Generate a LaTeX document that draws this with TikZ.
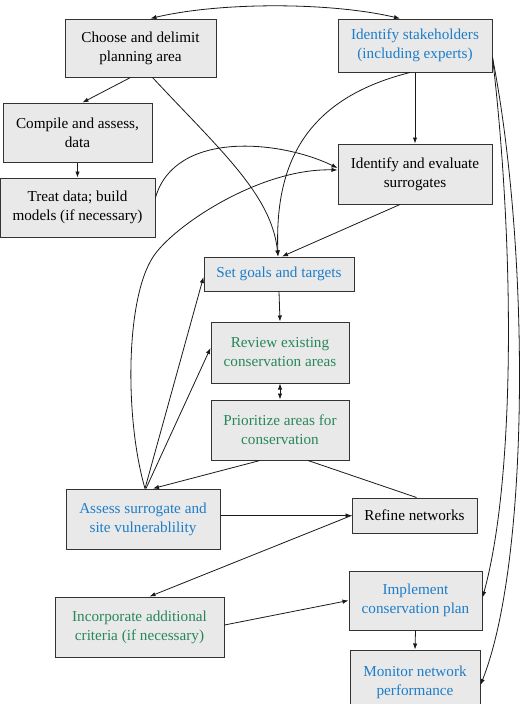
\documentclass[tikz,border=0pt]{standalone}
\usepackage{fontspec}
\setmainfont{Liberation Serif}
\usetikzlibrary{arrows.meta,calc}
\definecolor{tblue}{RGB}{30,125,200}
\definecolor{tgreen}{RGB}{40,135,90}
\definecolor{boxfill}{RGB}{233,233,233}
\begin{document}
\begin{tikzpicture}[x=1pt,y=-1pt,
  >={Latex[length=6pt,width=4.4pt]},
  box/.style={draw=black!80, fill=boxfill, line width=1pt, align=center,
    inner sep=0pt, font=\fontsize{15.2}{19}\selectfont},
  bluetext/.style={text=tblue},
  greentext/.style={text=tgreen},
  link/.style={draw=black!90, line width=0.8pt},
  conn/.style={link, ->},
  both/.style={link, <->}]
\useasboundingbox (0,0) rectangle (528,704);

\node[box, minimum width=151pt, minimum height=58pt] (A) at (140.5,48) {Choose and delimit\\planning area};
\node[box, bluetext, minimum width=154pt, minimum height=53pt] (B) at (415,45.5) {Identify stakeholders\\(including experts)};
\node[box, minimum width=149pt, minimum height=59pt] (C) at (77.5,132.5) {Compile and assess,\\data};
\node[box, minimum width=155pt, minimum height=59pt] (D) at (77.5,207.5) {Treat data; build\\models (if necessary)};
\node[box, minimum width=154pt, minimum height=60pt] (E) at (415,174) {Identify and evaluate\\surrogates};
\node[box, bluetext, minimum width=150pt, minimum height=34pt] (F) at (279,274) {Set goals and targets};
\node[box, greentext, minimum width=138pt, minimum height=61pt] (G) at (280,352.5) {Review existing\\conservation areas};
\node[box, greentext, minimum width=138pt, minimum height=60pt] (H) at (280,430) {Prioritize areas for\\conservation};
\node[box, bluetext, minimum width=154pt, minimum height=60pt] (I) at (143,519) {Assess surrogate and\\site vulnerablility};
\node[box, minimum width=125pt, minimum height=35pt] (J) at (414.5,515.5) {Refine networks};
\node[box, greentext, minimum width=169pt, minimum height=60pt] (K) at (139.5,627) {Incorporate additional\\criteria (if necessary)};
\node[box, bluetext, minimum width=133pt, minimum height=59pt] (L) at (415.5,600.5) {Implement\\conservation plan};
\node[box, bluetext, minimum width=130pt, minimum height=64pt] (M) at (415,682) {Monitor network\\performance};

% top arc
\draw[both] ([xshift=10pt]A.north) .. controls (220,2) and (330,2) .. ([xshift=-15pt]B.north);
% A -> C
\draw[conn] ([xshift=-10pt]A.south) -- ([xshift=5pt]C.north);
% A -> F
\draw[conn] ([xshift=12pt]A.south) .. controls (220,150) and (272,195) .. ([xshift=-1pt]F.north);
% C -> D
\draw[conn] (C.south) -- (D.north);
% D -> E
\draw[conn] ([yshift=10pt]D.east) .. controls (175,130) and (280,140) .. ([yshift=6pt]E.west);
% I -> E
\draw[conn] ([xshift=2pt]I.north) .. controls (125,420) and (125,300) .. (153,257)
  .. controls (173,226) and (260,168) .. ([yshift=4pt]E.west);
% B -> E
\draw[conn] (B.south) -- (E.north);
% B -> F
\draw[conn] ([xshift=-5pt]B.south) .. controls (300,100) and (275,170) .. ([xshift=-1pt]F.north);
% E -> F
\draw[conn] ([xshift=-15pt]E.south) -- ([xshift=3pt]F.north);
% F -> G
\draw[conn] (F.south) -- (G.north);
% G <-> H
\draw[both] (G.south) -- (H.north);
% H -> I
\draw[conn] ([xshift=-20pt]H.south) -- ([xshift=10pt]I.north);
% H -- J
\draw[link] ([xshift=28pt]H.south) -- ([xshift=2pt]J.north);
% I -> F, I -> G
\draw[conn] ([xshift=2pt]I.north) -- ([yshift=-3pt]F.west);
\draw[conn] ([xshift=3pt]I.north) -- ([yshift=4.5pt]G.west);
% I -> J
\draw[conn] (I.east |- J.west) -- (J.west);
% J -> K
\draw[conn] (J.west) -- ([xshift=10pt]K.north);
% K -> L
\draw[conn] ([yshift=2pt]K.east) -- (L.west);
% L -> M
\draw[conn] (L.south) -- (M.north);
% B -> L, B -> M
\draw[conn] ([yshift=-12pt]B.east) .. controls (515,250) and (515,480) .. ([yshift=3pt]L.east);
\draw[conn] ([yshift=-12pt]B.east) .. controls (530,250) and (530,560) .. ([yshift=-3pt]M.east);
\end{tikzpicture}
\end{document}
